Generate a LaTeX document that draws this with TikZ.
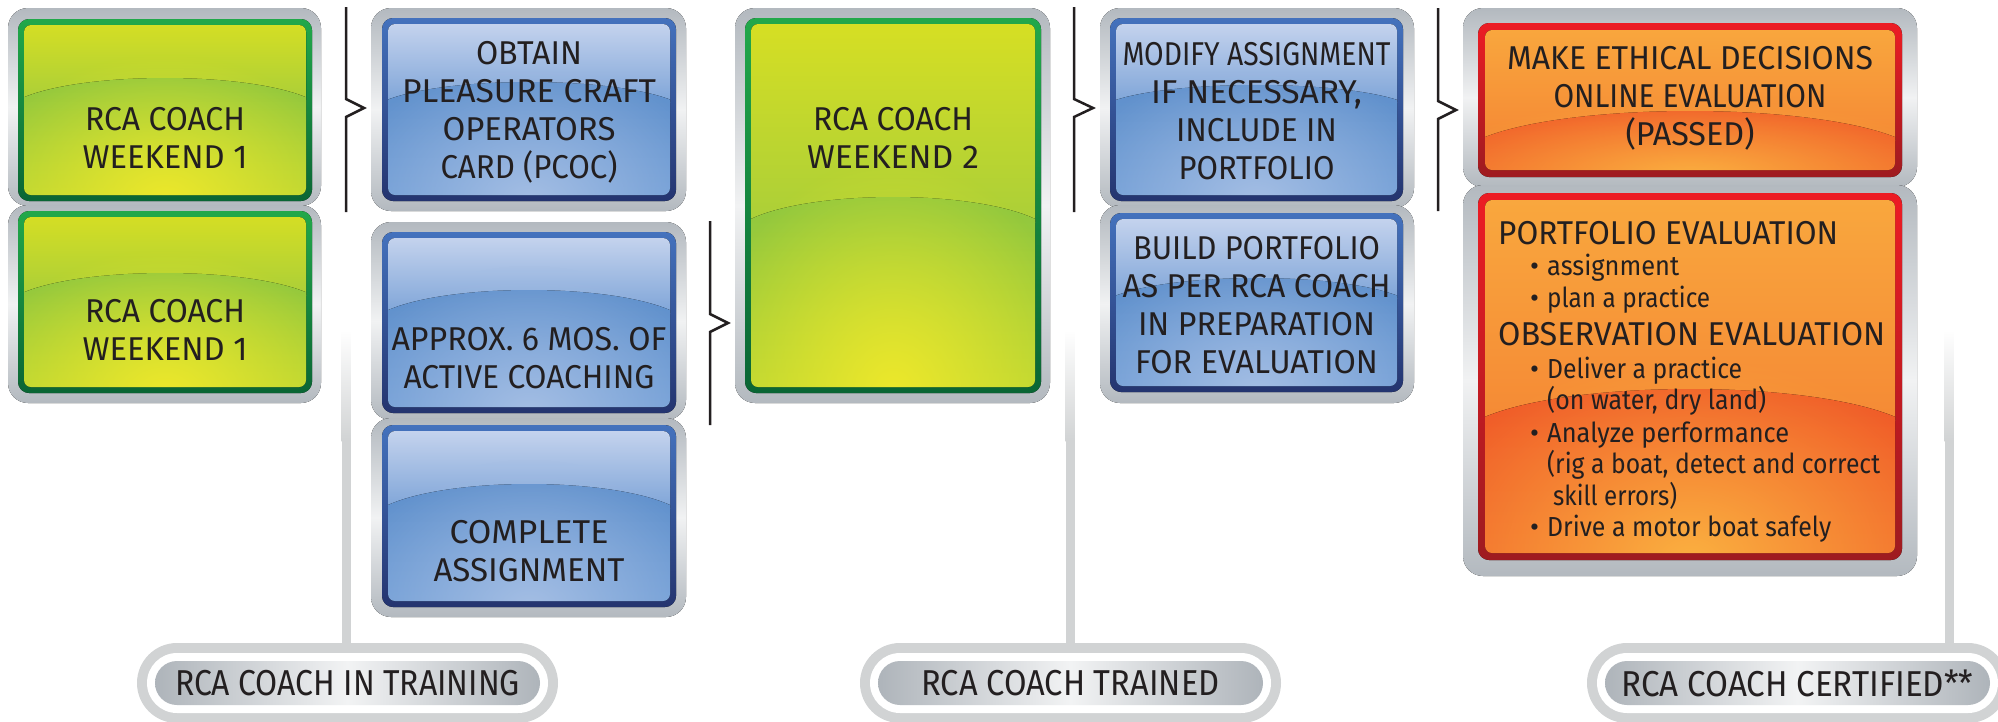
\documentclass[tikz,border=0pt]{standalone}
\usepackage{fontspec}
\usepackage{graphicx}
\usetikzlibrary{fadings}
\newfontfamily\headfont{Fira Sans}
\newfontfamily\bodyfont{Fira Sans}
\definecolor{ink}{HTML}{231F20}
\definecolor{frameg}{HTML}{B3B9BF}
\definecolor{framew}{HTML}{F1F2F3}
\definecolor{lineg}{HTML}{D1D3D4}
\definecolor{pillg}{HTML}{D1D3D4}
\definecolor{pilld}{HTML}{AEB4BA}
\definecolor{pillw}{HTML}{F2F3F4}
% green scheme
\definecolor{gBT}{HTML}{22A84A}
\definecolor{gBB}{HTML}{0A6534}
\definecolor{gF1}{HTML}{D7DF23}
\definecolor{gF2}{HTML}{ABCF38}
\definecolor{gL1}{HTML}{8DC63F}
\definecolor{gL2}{HTML}{EDE82B}
\definecolor{gL3}{HTML}{B9D533}
% blue scheme
\definecolor{bBT}{HTML}{4472BD}
\definecolor{bBB}{HTML}{24346F}
\definecolor{bF1}{HTML}{C9D6EF}
\definecolor{bF2}{HTML}{7FA5D8}
\definecolor{bL1}{HTML}{5E8FCB}
\definecolor{bL2}{HTML}{A4BEE4}
\definecolor{bL3}{HTML}{6E9CD5}
% orange scheme
\definecolor{oBT}{HTML}{ED1C24}
\definecolor{oBB}{HTML}{9E1B20}
\definecolor{oF1}{HTML}{F9A83E}
\definecolor{oF2}{HTML}{F58A35}
\definecolor{oL1}{HTML}{F05A28}
\definecolor{oL2}{HTML}{FBB040}
\definecolor{oL3}{HTML}{F26B2C}
\def\rcagbw{6}\def\rcabbw{6}\def\rcaobw{7}
\tikzfading[name=glowfade, inner color=transparent!0, outer color=transparent!100]
\newsavebox\rcafitbx
\makeatletter
\newcommand\fitto[2]{\sbox\rcafitbx{#2}\edef\rcafitw{\strip@pt\wd\rcafitbx}\pgfmathsetmacro\rcafitf{#1/\rcafitw}\scalebox{\rcafitf}[1]{\usebox\rcafitbx}}
\makeatother
\newcommand\rcaframe[4]{\fill[rounded corners=20pt, top color=frameg, bottom color=frameg, middle color=framew] (#1,#2) rectangle (#3,#4);}
\newcommand\rcagloss[7]{%
  \edef\rcabw{\csname rca#7bw\endcsname}%
  \fill[rounded corners=11pt, top color=#7BT, bottom color=#7BB] (#1,#2) rectangle (#3,#4);
  \begin{scope}
    \clip[rounded corners=7pt] ({#1+\rcabw},{#2+\rcabw}) rectangle ({#3-\rcabw},{#4-\rcabw});
    \fill[top color=#7F1, bottom color=#7F2] (#1,#2) rectangle (#3,#6);
    \fill[top color=#7L1, bottom color=#7L3] (#1,#6) .. controls ({#1+0.2*(#3-#1)},{(4*#5-#6)/3}) and ({#3-0.2*(#3-#1)},{(4*#5-#6)/3}) .. (#3,#6) -- (#3,#4) -- (#1,#4) -- cycle;
    \fill[#7L2, path fading=glowfade] ({(#1+#3)/2},#4) ellipse ({0.65*(#3-#1)*1pt} and {1.2*(#4-#5)*1pt});
  \end{scope}}
\tikzset{
  head/.style={font=\headfont\fontsize{33}{38}\selectfont, text=ink, align=center, inner sep=0pt},
  headl/.style={font=\headfont\fontsize{33}{38}\selectfont, text=ink, inner sep=0pt, anchor=base west},
  body/.style={font=\bodyfont\fontsize{27.5}{32}\selectfont, text=ink, inner sep=0pt, anchor=base west},
  brk/.style={draw=ink, line width=2.5pt},
  conn/.style={draw=lineg, line width=9pt},
  pillout/.style={fill=pillg, rounded corners=40pt, minimum width=421pt, minimum height=80pt, inner sep=0pt},
  pillring/.style={fill=white, rounded corners=30pt, minimum width=401pt, minimum height=60pt, inner sep=0pt},
  pillin/.style={left color=pilld, right color=pilld, middle color=pillw, rounded corners=22pt, minimum width=385pt, minimum height=44pt, inner sep=0pt, font=\headfont\fontsize{36}{40}\selectfont, text=ink}
}
\begin{document}
\begin{tikzpicture}[x=1pt,y=-1pt]
\useasboundingbox (0,0) rectangle (1998,721);
\clip (0,0) rectangle (1998,721);
\fill[white] (0,0) rectangle (1998,721);
% connector lines (stage labels)
\shade[top color=white, bottom color=lineg] (341.5,330) rectangle (350.5,441);
\shade[top color=white, bottom color=lineg] (1065.5,330) rectangle (1074.5,441);
\shade[top color=white, bottom color=lineg] (1944.5,330) rectangle (1953.5,441);
% frames
\rcaframe{8}{8}{321}{206}
\rcaframe{8}{205}{321}{403}
\rcaframe{371}{8}{686}{211}
\rcaframe{371}{222}{686}{420}
\rcaframe{371}{418}{686}{617}
\rcaframe{735}{8}{1050}{403}
\rcaframe{1100}{8}{1414}{208}
\rcaframe{1100}{205}{1414}{403}
\rcaframe{1463}{8}{1917}{187}
\rcaframe{1463}{185}{1917}{576}
% glossy boxes
\rcagloss{18}{19}{312}{201}{78}{100}{g}
\rcagloss{18}{211}{312}{393}{273}{295}{g}
\rcagloss{382}{18}{676}{201}{82}{102}{b}
\rcagloss{382}{232}{676}{413}{290}{313}{b}
\rcagloss{382}{425}{676}{607}{484}{508}{b}
\rcagloss{745}{18}{1041}{393}{197}{222}{g}
\rcagloss{1110}{18}{1403}{201}{85}{102}{b}
\rcagloss{1110}{213}{1403}{392}{278}{298}{b}
\rcagloss{1478}{23}{1902}{177}{111}{140}{o}
\rcagloss{1478}{193}{1902}{560}{389}{420}{o}
% box texts
\node[head] (g1t) at (165,137.5) {\fitto{160}{RCA COACH}\\\fitto{165}{WEEKEND 1}};
\node[head] (g2t) at (165,330) {\fitto{160}{RCA COACH}\\\fitto{165}{WEEKEND 1}};
\node[head] (b1t) at (529,112) {\fitto{106}{OBTAIN}\\\fitto{254}{PLEASURE CRAFT}\\\fitto{173}{OPERATORS}\\\fitto{177}{CARD (PCOC)}};
\node[head] (b2t) at (529,358) {\fitto{275}{APPROX. 6 MOS. OF}\\\fitto{251}{ACTIVE COACHING}};
\node[head] (b3t) at (529,551.5) {\fitto{159}{COMPLETE}\\\fitto{191}{ASSIGNMENT}};
\node[head] (w2t) at (893,137.5) {\fitto{160}{RCA COACH}\\\fitto{172}{WEEKEND 2}};
\node[head] (m1t) at (1256.5,111) {\fitto{268}{MODIFY ASSIGNMENT}\\\fitto{211}{IF NECESSARY,}\\\fitto{161}{INCLUDE IN}\\\fitto{156}{PORTFOLIO}};
\node[head] (m2t) at (1256.5,305) {\fitto{247}{BUILD PORTFOLIO}\\\fitto{268}{AS PER RCA COACH}\\\fitto{237}{IN PREPARATION}\\\fitto{243}{FOR EVALUATION}};
\node[head] (o1t) at (1690,98.5) {\fitto{366}{MAKE ETHICAL DECISIONS}\\\fitto{273}{ONLINE EVALUATION}\\\fitto{129}{(PASSED)}};
\node[headl] (pe) at (1498,244) {\fitto{340}{PORTFOLIO EVALUATION}};
\node[body] (pa) at (1530,275) {\makebox[17pt][l]{\textbullet}\fitto{132}{assignment}};
\node[body] (pb) at (1530,307) {\makebox[17pt][l]{\textbullet}\fitto{163}{plan a practice}};
\node[headl] (oe) at (1498,345) {\fitto{387}{OBSERVATION EVALUATION}};
\node[body] (pc) at (1530,378) {\makebox[17pt][l]{\textbullet}\fitto{195}{Deliver a practice}};
\node[body] (pd) at (1547,409) {\fitto{219}{(on water, dry land)}};
\node[body] (pf) at (1530,442) {\makebox[17pt][l]{\textbullet}\fitto{242}{Analyze performance}};
\node[body] (pg) at (1547,473) {\fitto{333}{(rig a boat, detect and correct}};
\node[body] (ph) at (1553,505) {\fitto{124}{skill errors)}};
\node[body] (pi) at (1530,536) {\makebox[17pt][l]{\textbullet}\fitto{284}{Drive a motor boat safely}};
% brackets
\coordinate (k1a) at (346,7);   \coordinate (k1t) at (364,108);  \coordinate (k1b) at (346,212);
\coordinate (k2a) at (710,221); \coordinate (k2t) at (728,323);  \coordinate (k2b) at (710,425);
\coordinate (k3a) at (1074,7);  \coordinate (k3t) at (1093,108); \coordinate (k3b) at (1074,212);
\coordinate (k4a) at (1438,8);  \coordinate (k4t) at (1456,110); \coordinate (k4b) at (1438,211);
\draw[brk] (k1a) -- ++(0,92) -- (k1t) -- ++(-18,9) -- (k1b);
\draw[brk] (k2a) -- ++(0,93) -- (k2t) -- ++(-18,9) -- (k2b);
\draw[brk] (k3a) -- ++(0,92) -- (k3t) -- ++(-19,9) -- (k3b);
\draw[brk] (k4a) -- ++(0,93) -- (k4t) -- ++(-18,9) -- (k4b);
% stage labels
\node[pillout] (p1) at (347.5,683) {};
\node[pillring] (p1r) at (p1) {};
\node[pillin] (p1t) at (p1) {\fitto{345}{RCA COACH IN TRAINING}};
\node[pillout] (p2) at (1070.5,683) {};
\node[pillring] (p2r) at (p2) {};
\node[pillin] (p2t) at (p2) {\fitto{298}{RCA COACH TRAINED}};
\node[pillout] (p3) at (1797.5,683) {};
\node[pillring] (p3r) at (p3) {};
\node[pillin] (p3t) at (p3) {\fitto{352}{RCA COACH CERTIFIED**}};
% connectors
\coordinate (c1) at (346,440);
\coordinate (c2) at (1070,440);
\coordinate (c3) at (1949,440);
\draw[conn] (c1) -- (c1 |- p1.north);
\draw[conn] (c2) -- (c2 |- p2.north);
\draw[conn] (c3) -- (c3 |- p3.north);
\end{tikzpicture}
\end{document}
